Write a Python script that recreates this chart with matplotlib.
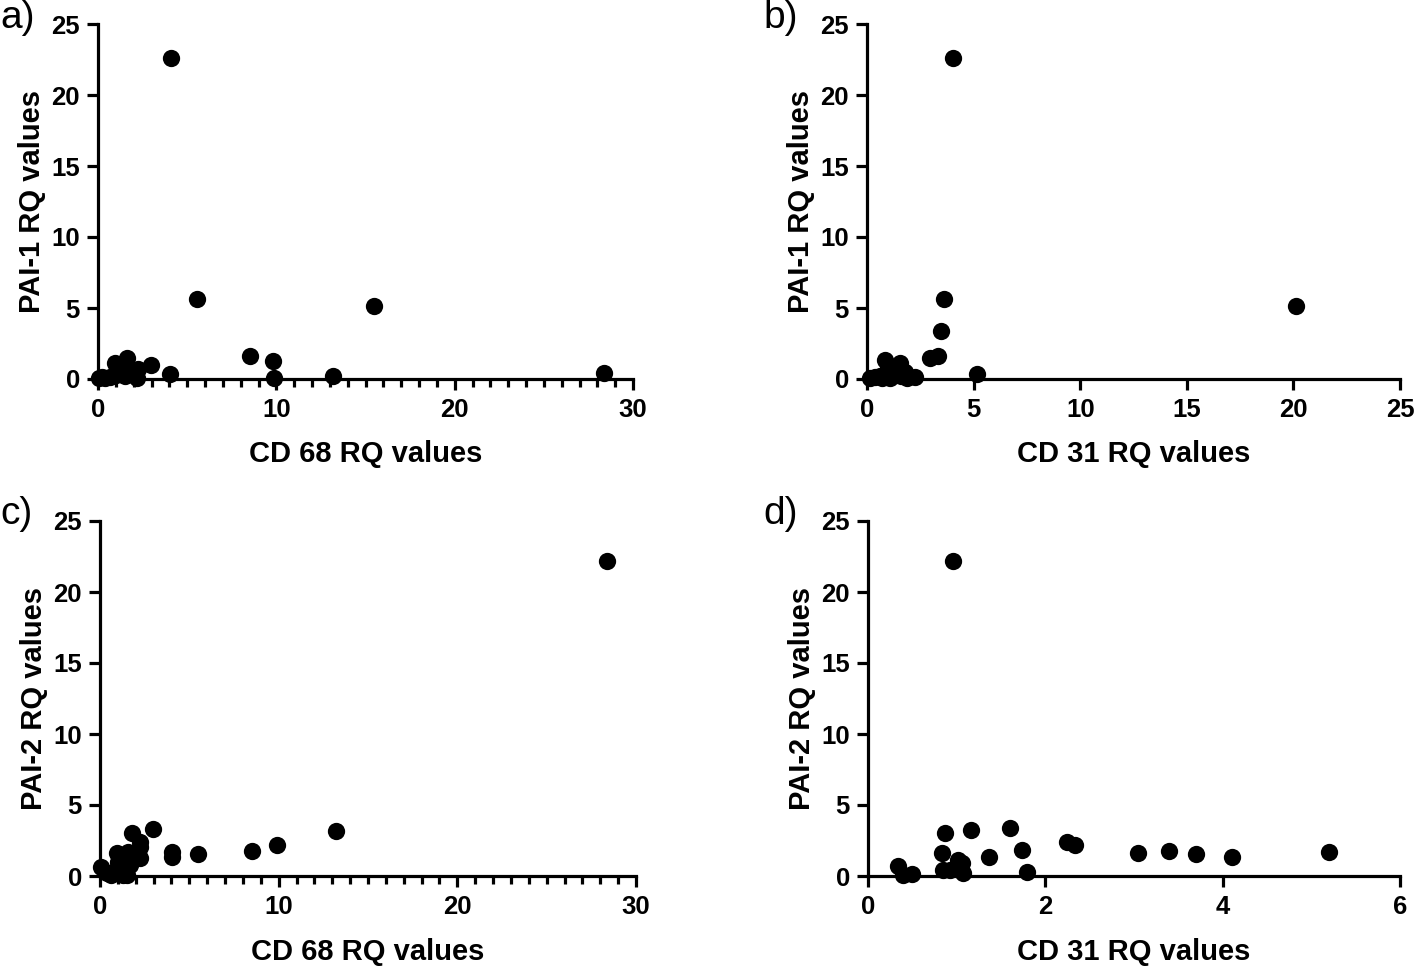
import matplotlib
matplotlib.use("Agg")
import matplotlib.pyplot as plt
from matplotlib.ticker import MultipleLocator

plt.rcParams['font.family'] = ['Liberation Sans', 'DejaVu Sans']

# Panel a: CD68 vs PAI-1
a_x = [4.1, 5.55, 15.5, 8.5, 9.8, 9.85, 13.2, 28.4, 4.05, 2.95, 1.6, 0.95, 2.25, 1.9,
       1.2, 0.2, 0.67, 2.2, 1.3, 0.4, 1.0, 1.5, 0.05]
a_y = [22.6, 5.63, 5.14, 1.6, 1.3, 0.05, 0.2, 0.42, 0.38, 1.02, 1.5, 1.1, 0.7, 0.4,
       0.4, 0.15, 0.12, 0.07, 0.8, 0.05, 0.3, 0.2, 0.05]
# Panel b: CD31 vs PAI-1
b_x = [4.03, 3.6, 20.1, 3.46, 3.33, 2.95, 5.15, 0.84, 1.55, 1.22, 1.78, 2.25, 0.38,
       0.69, 0.92, 1.86, 0.14, 1.0, 1.35, 0.6, 1.1, 1.6, 0.9]
b_y = [22.6, 5.63, 5.14, 3.35, 1.62, 1.48, 0.35, 1.34, 1.1, 0.63, 0.5, 0.12, 0.16,
       0.07, 0.16, 0.07, 0.07, 0.9, 0.3, 0.2, 0.05, 0.2, 0.4]
# Panel c: CD68 vs PAI-2
c_x = [28.4, 13.2, 9.9, 8.5, 5.5, 4.05, 4.05, 2.95, 1.77, 2.24, 2.24, 2.24, 0.93,
       1.58, 1.03, 0.05, 1.68, 0.4, 0.9, 1.3, 0.6, 1.2, 1.5]
c_y = [22.2, 3.17, 2.2, 1.74, 1.55, 1.7, 1.36, 3.3, 3.0, 2.4, 2.05, 1.25, 1.6,
       1.7, 1.0, 0.65, 0.75, 0.2, 0.4, 0.1, 0.05, 0.3, 0.05]
# Panel d: CD31 vs PAI-2
d_x = [0.96, 0.87, 1.16, 1.6, 1.74, 1.37, 0.83, 1.02, 1.06, 0.85, 0.92, 1.07, 1.79,
       0.34, 0.4, 0.5, 2.25, 2.34, 3.04, 3.4, 3.7, 4.1, 5.2]
d_y = [22.2, 3.0, 3.24, 3.36, 1.83, 1.36, 1.6, 1.13, 0.9, 0.42, 0.42, 0.19, 0.3,
       0.7, 0.07, 0.14, 2.4, 2.2, 1.62, 1.76, 1.55, 1.34, 1.69]

panels = [
    dict(lab='a)', x=a_x, y=a_y, xlabel='CD 68 RQ values', ylabel='PAI-1 RQ values',
         xmax=30, xmaj=10, xmin=1, rect=[98, 24, 633, 379], labpos=(0, 18)),
    dict(lab='b)', x=b_x, y=b_y, xlabel='CD 31 RQ values', ylabel='PAI-1 RQ values',
         xmax=25, xmaj=5, xmin=None, rect=[867, 24, 1400, 379], labpos=(763, 18)),
    dict(lab='c)', x=c_x, y=c_y, xlabel='CD 68 RQ values', ylabel='PAI-2 RQ values',
         xmax=30, xmaj=10, xmin=1, rect=[100, 521, 636, 876], labpos=(0, 514)),
    dict(lab='d)', x=d_x, y=d_y, xlabel='CD 31 RQ values', ylabel='PAI-2 RQ values',
         xmax=6, xmaj=2, xmin=None, rect=[868, 521, 1400, 876], labpos=(763, 514)),
]

W, H = 1416, 969
fig = plt.figure(figsize=(W / 100, H / 100), dpi=100)

for p in panels:
    l, t, r, b = p['rect']
    ax = fig.add_axes([l / W, 1 - b / H, (r - l) / W, (b - t) / H])
    ax.scatter(p['x'], p['y'], s=155, color='black', zorder=5, clip_on=False,
               linewidths=0)
    ax.set_xlim(0, p['xmax'])
    ax.set_ylim(0, 25)
    ax.xaxis.set_major_locator(MultipleLocator(p['xmaj']))
    if p['xmin']:
        ax.xaxis.set_minor_locator(MultipleLocator(p['xmin']))
    ax.yaxis.set_major_locator(MultipleLocator(5))
    for s in ['top', 'right']:
        ax.spines[s].set_visible(False)
    for s in ['left', 'bottom']:
        ax.spines[s].set_linewidth(2.3)
    ax.tick_params(which='major', length=8, width=2.3, labelsize=18.5, pad=5)
    ax.tick_params(axis='x', which='major', pad=6)
    ax.tick_params(which='minor', length=5.5, width=2.3)
    for lbl in ax.get_xticklabels() + ax.get_yticklabels():
        lbl.set_fontweight('bold')
    ax.set_xlabel(p['xlabel'], fontsize=21, fontweight='bold', labelpad=13)
    ax.set_ylabel(p['ylabel'], fontsize=21, fontweight='bold', labelpad=4)
    lx, ly = p['labpos']
    fig.text(lx / W, 1 - ly / H, p['lab'], fontsize=28, ha='left', va='center')

fig.savefig('out.png', dpi=100)
